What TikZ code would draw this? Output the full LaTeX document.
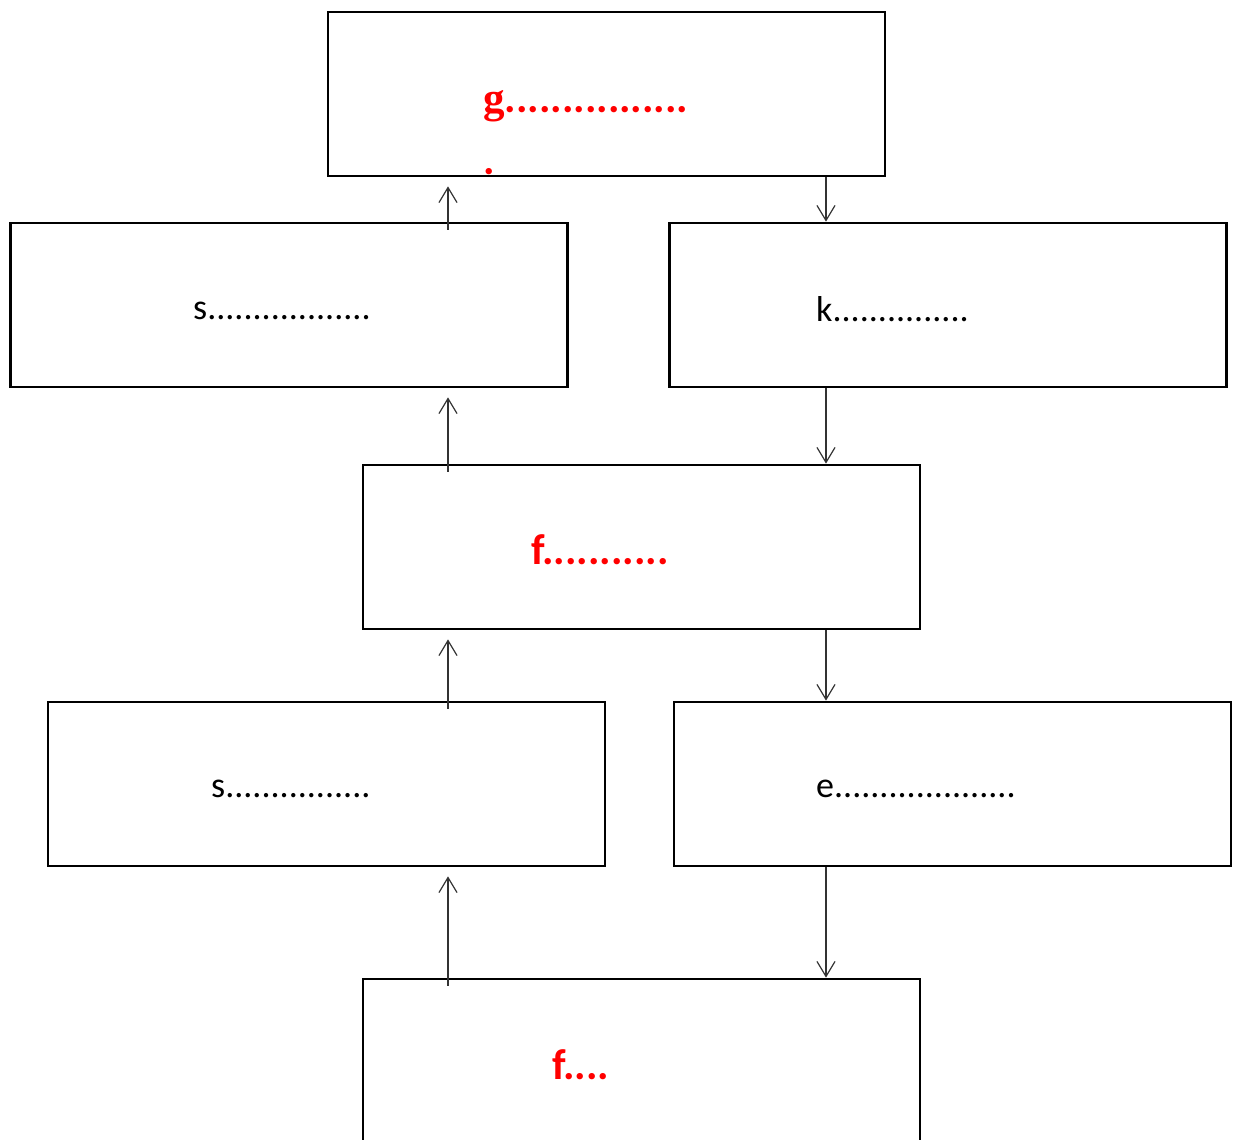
\documentclass[tikz,border=0pt]{standalone}
\usepackage{fontspec}
\setmainfont{Carlito}
\newfontfamily\gserif{Liberation Serif}
\usetikzlibrary{arrows.meta}
\begin{document}
\begin{tikzpicture}[x=1pt,y=-1pt,
  box/.style={draw,line width=2.8pt,inner sep=0pt,minimum width=557pt,minimum height=164pt},
  arr/.style={draw,line width=1.2pt,black!80,-{Straight Barb[length=15pt,width=18pt,line width=1.2pt]}},
  txt/.style={anchor=base west,inner sep=0pt,font=\fontsize{36}{40}\selectfont},
  redtxt/.style={anchor=base west,inner sep=0pt,red,font=\fontsize{43}{62}\selectfont\bfseries,align=left}]
\useasboundingbox (0,0) rectangle (1240,1140);
\clip (0,0) rectangle (1240,1140);
\coordinate (up) at (448,0);
\coordinate (dn) at (826,0);
% boxes
\node[box] (g) at (606.5,94) {};
\node[box] (s1) at (289,305) {};
\node[box] (k) at (948,305) {};
\node[box] (f1) at (641.5,547) {};
\node[box] (s2) at (326.5,784) {};
\node[box] (e) at (952.5,784) {};
\node[box] (f2) at (641.5,1061) {};
% texts
\node[redtxt] (gt) at (483,174) {{\gserif g}................\\.};
\node[txt] (s1t) at (193,319) {s..................};
\node[txt] (kt) at (816,321) {k...............};
\node[redtxt] (f1t) at (531,564) {f...........};
\node[txt] (s2t) at (211,797) {s................};
\node[txt] (et) at (816,797) {e....................};
\node[redtxt] (f2t) at (552,1079) {f....};
% upward arrows
\path[arr,shorten <=-8pt,shorten >=9pt] (s1.north -| up) -- (g.south -| up);
\path[arr,shorten <=-8pt,shorten >=9pt] (f1.north -| up) -- (s1.south -| up);
\path[arr,shorten <=-8pt,shorten >=9pt] (s2.north -| up) -- (f1.south -| up);
\path[arr,shorten <=-8pt,shorten >=9pt] (f2.north -| up) -- (s2.south -| up);
% downward arrows
\path[arr] (g.south -| dn) -- (k.north -| dn);
\path[arr] (k.south -| dn) -- (f1.north -| dn);
\path[arr] (f1.south -| dn) -- (e.north -| dn);
\path[arr] (e.south -| dn) -- (f2.north -| dn);
\end{tikzpicture}
\end{document}
